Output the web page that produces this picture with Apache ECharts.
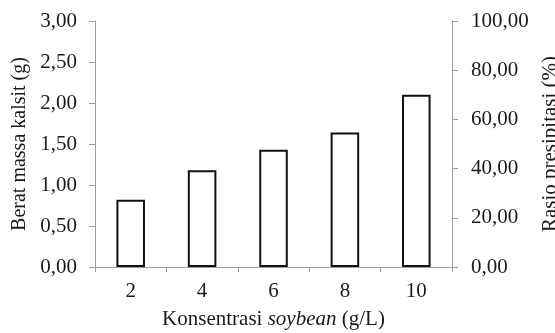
<!DOCTYPE html>
<html><head><meta charset="utf-8">
<script src="https://cdn.jsdelivr.net/npm/echarts@6/dist/echarts.min.js"></script>
<style>html,body{margin:0;padding:0;background:#fff}#c{width:555px;height:333px}</style>
</head><body><div id="c"></div>
<script>
const categories = ['2', '4', '6', '8', '10'];
const massValues = [0.82, 1.18, 1.43, 1.64, 2.10];
const leftTicks = { min: 0, max: 3, interval: 0.5 };
const rightTicks = { min: 0, max: 100, interval: 20 };

const fmt = v => v.toFixed(2).replace('.', ',');
const font = 'Liberation Serif';
const axisCol = '#a0a0a0';
const txt = '#1a1a1a';
const chart = echarts.init(document.getElementById('c'), null, { renderer: 'canvas' });
chart.setOption({
  animation: false,
  grid: { left: 95, right: 103, top: 21, bottom: 66, containLabel: false, outerBoundsMode: 'none' },
  xAxis: {
    type: 'category', data: categories,
    axisLine: { lineStyle: { color: axisCol, width: 1 } },
    axisTick: { show: true, alignWithLabel: false, length: 5, lineStyle: { color: axisCol } },
    axisLabel: { fontFamily: font, fontSize: 21, color: txt, margin: 14 },
    name: '{a|Konsentrasi }{b|soybean}{a| (g/L)}',
    nameLocation: 'middle', nameGap: 42,
    nameTextStyle: { rich: {
      a: { fontFamily: font, fontSize: 21, color: txt },
      b: { fontFamily: font, fontSize: 21, color: txt, fontStyle: 'italic' }
    } }
  },
  yAxis: [{
    type: 'value', min: leftTicks.min, max: leftTicks.max, interval: leftTicks.interval,
    splitLine: { show: false },
    axisLine: { show: true, lineStyle: { color: axisCol } },
    axisTick: { show: true, length: 6, lineStyle: { color: axisCol } },
    axisLabel: { formatter: fmt, fontFamily: font, fontSize: 21, color: txt, margin: 18 },
    name: 'Berat massa kalsit (g)', nameLocation: 'middle', nameGap: 62, nameRotate: 90,
    nameTextStyle: { fontFamily: font, fontSize: 20, color: txt }
  }, {
    type: 'value', position: 'right', min: rightTicks.min, max: rightTicks.max, interval: rightTicks.interval,
    splitLine: { show: false },
    axisLine: { show: true, lineStyle: { color: axisCol } },
    axisTick: { show: true, length: 6, lineStyle: { color: axisCol } },
    axisLabel: { formatter: fmt, fontFamily: font, fontSize: 21, color: txt, margin: 19 },
    name: 'Rasio presipitasi (%)', nameLocation: 'middle', nameGap: 84, nameRotate: 90,
    nameTextStyle: { fontFamily: font, fontSize: 21, color: txt }
  }],
  series: [{
    type: 'bar', data: massValues, yAxisIndex: 0, barWidth: '40%',
    itemStyle: { color: '#fff', borderColor: '#111', borderWidth: 2 }
  }]
});
</script></body></html>
